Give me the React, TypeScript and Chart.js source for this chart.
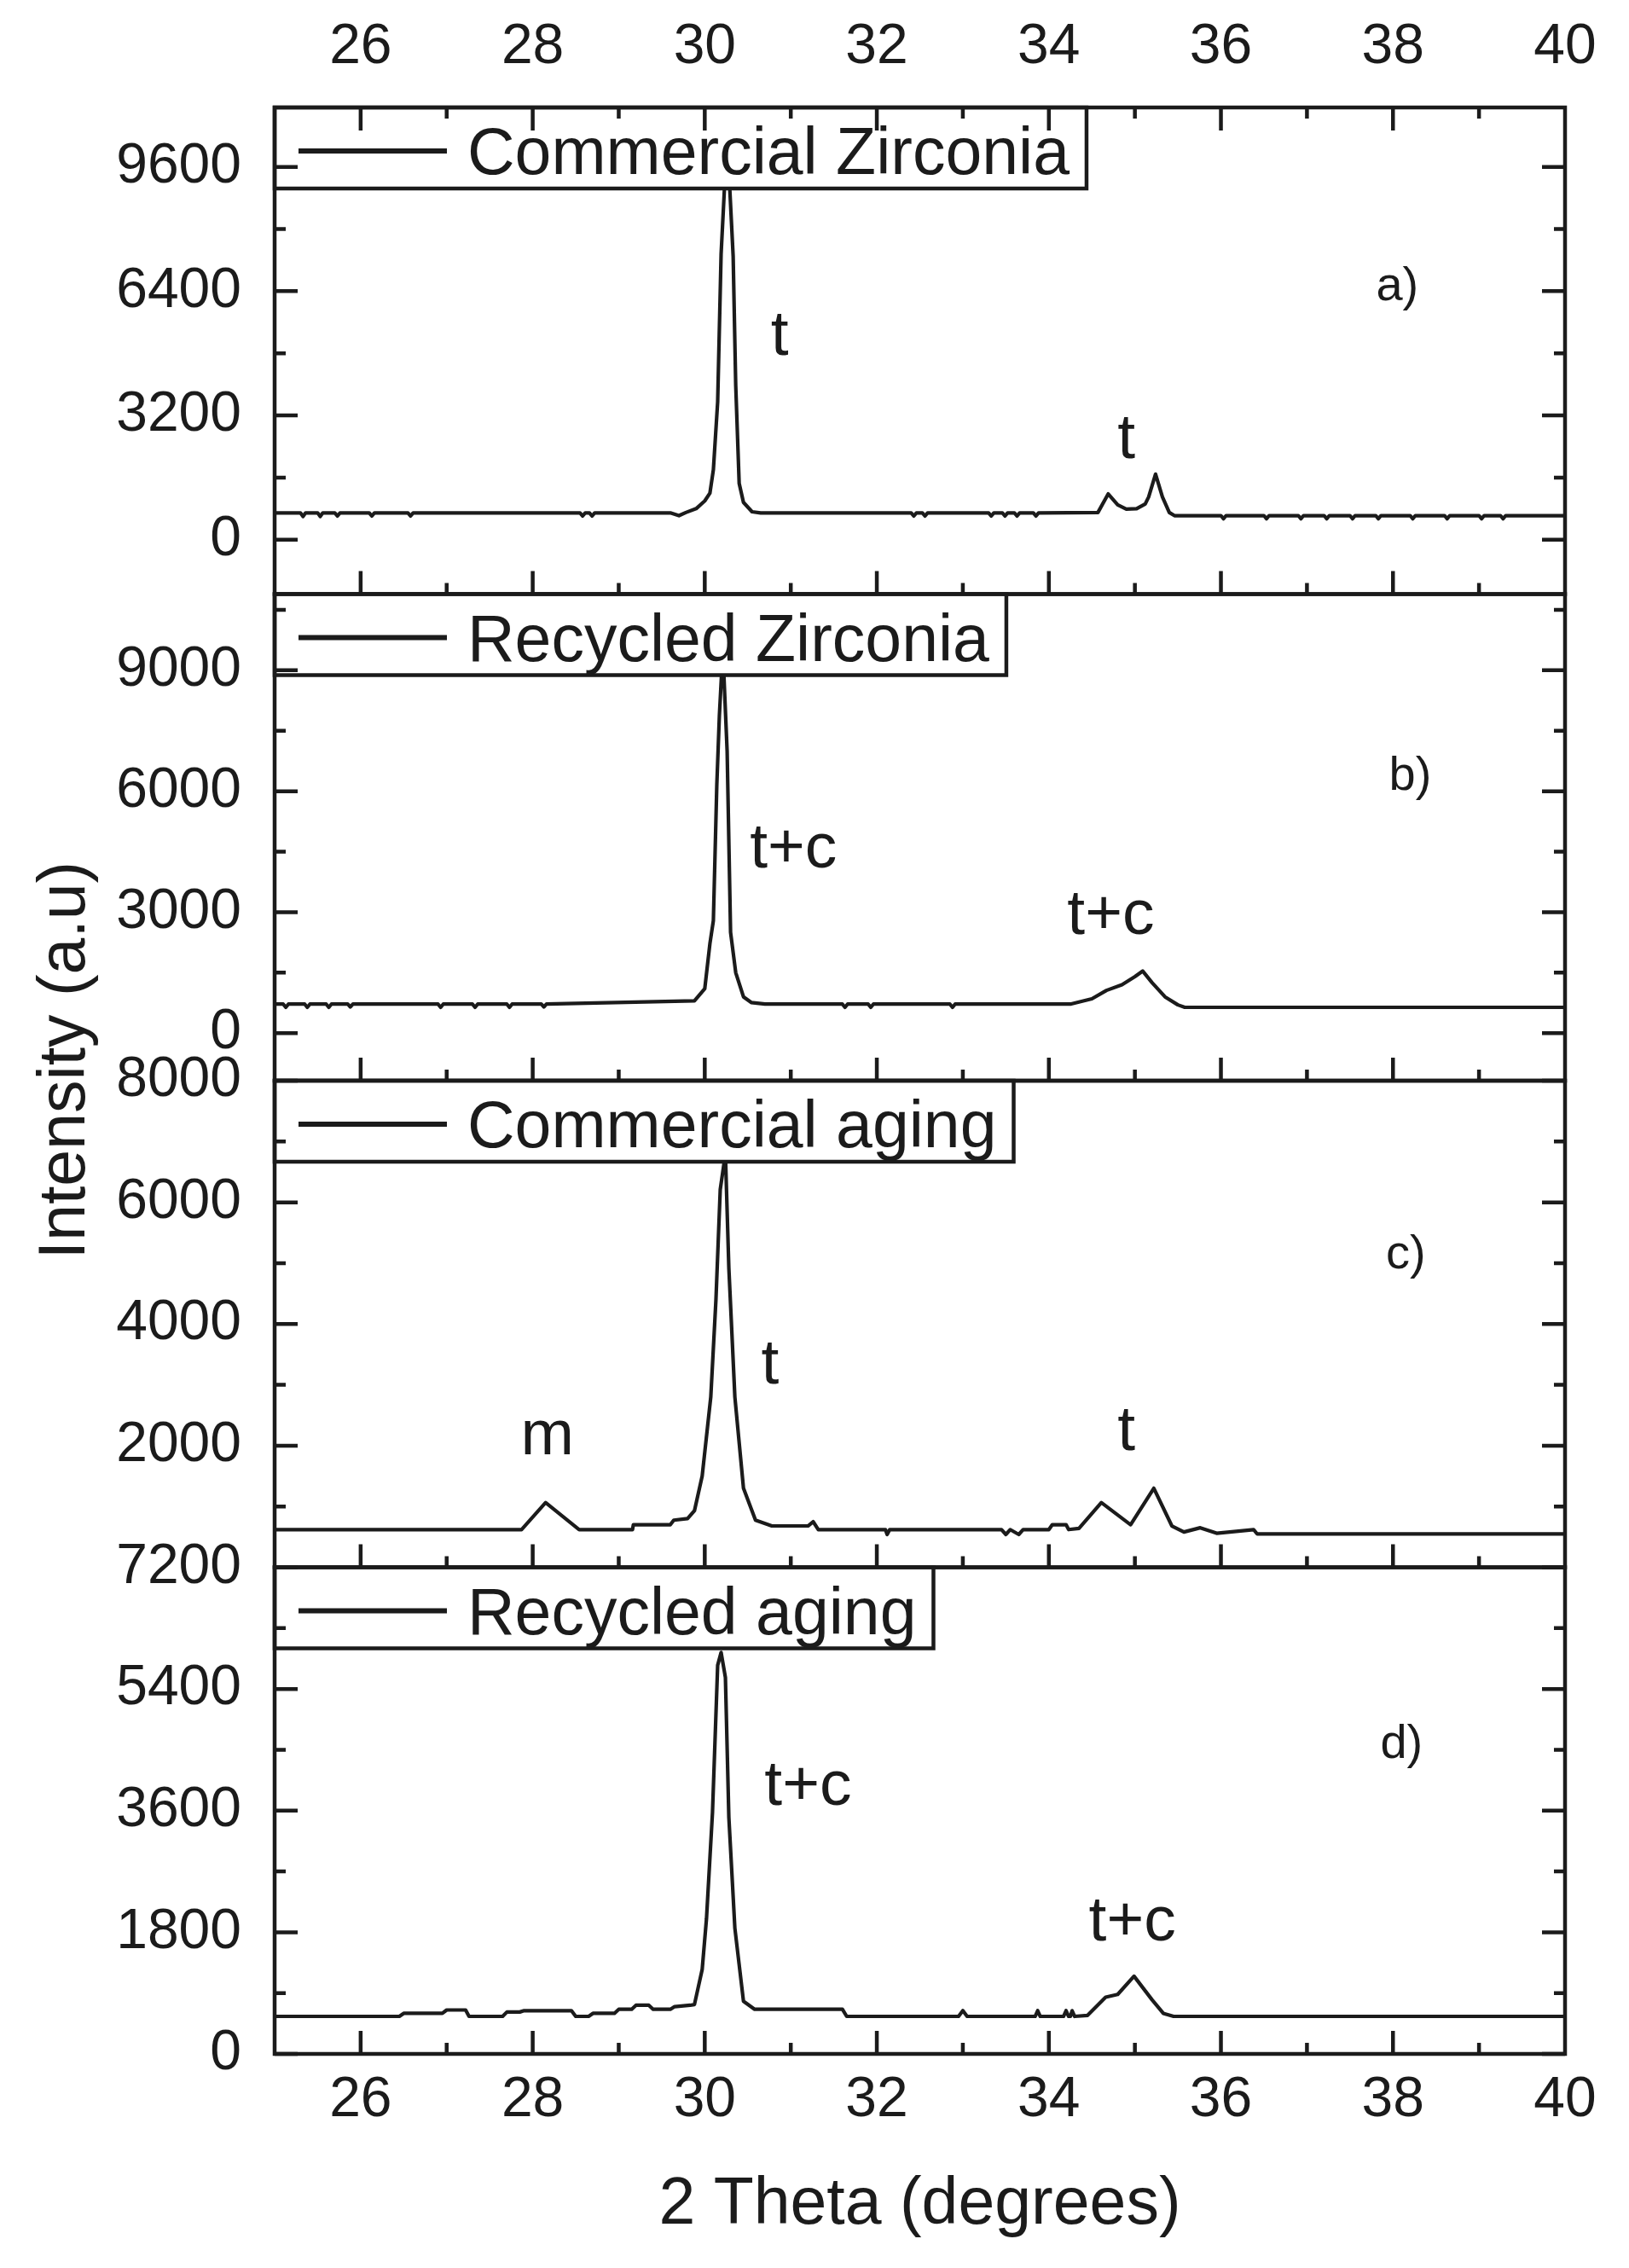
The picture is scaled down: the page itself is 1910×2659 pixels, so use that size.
import { useEffect, useRef } from 'react';
import { Chart, registerables } from 'chart.js';

Chart.register(...registerables);

const FONT = '"Liberation Sans", Arial, sans-serif';
const INK = '#1b1b1b';

const X_MIN = 25;
const X_MAX = 40;
const X_TICKS = [26, 28, 30, 32, 34, 36, 38, 40];

const SERIES_LABELS = ['Commercial Zirconia', 'Recycled Zirconia', 'Commercial aging', 'Recycled aging'];

// [2 theta, intensity]
const commercialZirconia: [number, number][] = [
  [25.0, 690], [25.3, 690], [25.33, 600], [25.36, 690], [25.5, 690], [25.53, 600], [25.56, 690],
  [25.7, 690], [25.73, 610], [25.76, 690], [26.1, 690], [26.13, 610], [26.16, 690], [26.55, 690],
  [26.58, 610], [26.61, 690], [28.55, 690], [28.58, 610], [28.61, 690], [28.66, 690], [28.69, 610],
  [28.72, 690], [29.6, 690], [29.7, 620], [29.78, 700], [29.9, 800], [30.0, 1000], [30.06, 1200],
  [30.1, 1800], [30.15, 3550], [30.19, 7360], [30.26, 10400], [30.33, 7300], [30.36, 3970],
  [30.4, 1450], [30.45, 960], [30.55, 720], [30.65, 690], [32.4, 690], [32.43, 610], [32.46, 690],
  [32.53, 690], [32.56, 610], [32.59, 690], [33.3, 690], [33.33, 610], [33.36, 690], [33.46, 690],
  [33.49, 610], [33.52, 690], [33.6, 690], [33.63, 610], [33.66, 690], [33.82, 690], [33.85, 610],
  [33.88, 690], [34.57, 700], [34.69, 1180], [34.8, 900], [34.9, 790], [35.02, 800], [35.12, 920],
  [35.16, 1100], [35.24, 1690], [35.32, 1100], [35.4, 700], [35.46, 620], [36.0, 620], [36.03, 540],
  [36.06, 620], [36.5, 620], [36.53, 540], [36.56, 620], [36.9, 620], [36.93, 540], [36.96, 620],
  [37.2, 620], [37.23, 540], [37.26, 620], [37.5, 620], [37.53, 540], [37.56, 620], [37.8, 620],
  [37.83, 540], [37.86, 620], [38.2, 620], [38.23, 540], [38.26, 620], [38.6, 620], [38.63, 540],
  [38.66, 620], [39.0, 620], [39.03, 540], [39.06, 620], [39.25, 620], [39.28, 540], [39.31, 620],
  [40.0, 620],
];

const recycledZirconia: [number, number][] = [
  [25.0, 720], [25.1, 720], [25.13, 640], [25.16, 720], [25.35, 720], [25.38, 640], [25.41, 720],
  [25.6, 720], [25.63, 640], [25.66, 720], [25.85, 720], [25.88, 650], [25.91, 720], [26.9, 720],
  [26.93, 640], [26.96, 720], [27.3, 720], [27.33, 640], [27.36, 720], [27.7, 720], [27.73, 640],
  [27.76, 720], [28.1, 720], [28.13, 650], [28.16, 720], [29.88, 800], [30.0, 1100], [30.06, 2220],
  [30.1, 2790], [30.14, 6150], [30.17, 7880], [30.21, 9500], [30.26, 7000], [30.3, 2500],
  [30.36, 1500], [30.45, 900], [30.54, 760], [30.7, 720], [31.6, 720], [31.63, 640], [31.66, 720],
  [31.9, 720], [31.93, 640], [31.96, 720], [32.85, 720], [32.88, 640], [32.91, 720], [34.25, 720],
  [34.5, 850], [34.67, 1060], [34.85, 1200], [35.0, 1400], [35.09, 1540], [35.2, 1250], [35.35, 900],
  [35.5, 700], [35.58, 640], [40.0, 640],
];

const commercialAging: [number, number][] = [
  [25.0, 620], [27.87, 620], [28.15, 1063], [28.54, 620], [29.16, 620], [29.17, 700], [29.6, 700],
  [29.64, 775], [29.8, 800], [29.88, 930], [29.97, 1500], [30.07, 2800], [30.13, 4400], [30.18, 6210],
  [30.24, 6800], [30.28, 4920], [30.35, 2800], [30.45, 1300], [30.59, 775], [30.78, 680], [31.2, 680],
  [31.26, 750], [31.32, 620], [32.1, 620], [32.12, 540], [32.15, 620], [33.45, 620], [33.5, 540],
  [33.55, 620], [33.65, 540], [33.7, 620], [34.0, 620], [34.04, 700], [34.2, 700], [34.23, 620],
  [34.35, 640], [34.61, 1063], [34.95, 700], [35.22, 1300], [35.43, 680], [35.57, 580], [35.76, 650],
  [35.95, 560], [36.38, 620], [36.42, 550], [40.0, 550],
];

const recycledAging: [number, number][] = [
  [25.0, 555], [26.45, 555], [26.5, 600], [26.95, 600], [27.0, 650], [27.22, 650], [27.26, 555],
  [27.65, 555], [27.7, 620], [27.85, 620], [27.9, 640], [28.45, 640], [28.5, 555], [28.65, 555],
  [28.7, 600], [28.95, 600], [29.0, 660], [29.15, 660], [29.2, 720], [29.35, 720], [29.4, 660],
  [29.6, 660], [29.65, 700], [29.83, 720], [29.88, 730], [29.97, 1250], [30.02, 2000], [30.09, 3575],
  [30.15, 5750], [30.19, 5940], [30.24, 5570], [30.28, 3500], [30.35, 1860], [30.45, 780],
  [30.58, 660], [31.6, 660], [31.65, 555], [32.95, 555], [33.0, 640], [33.05, 555], [33.84, 555],
  [33.87, 640], [33.9, 555], [34.17, 555], [34.2, 640], [34.23, 555], [34.25, 555], [34.27, 640],
  [34.3, 555], [34.45, 570], [34.66, 840], [34.8, 880], [34.99, 1150], [35.2, 800], [35.33, 600],
  [35.45, 555], [40.0, 555],
];

const SERIES = [commercialZirconia, recycledZirconia, commercialAging, recycledAging];

const PANEL_IDS = ['yA', 'yB', 'yC', 'yD'];
const Y_MIN = [-1400, -1180, 0, 0];
const Y_MAX = [11130, 10890, 8000, 7200];
const Y_TICKS = [
  [0, 3200, 6400, 9600],
  [0, 3000, 6000, 9000],
  [2000, 4000, 6000, 8000],
  [0, 1800, 3600, 5400, 7200],
];
const Y_MINOR = [1600, 1500, 1000, 900];

const PANEL_TAGS = ['a)', 'b)', 'c)', 'd)'];
const TAG_POS: [number, number][] = [[38.05, 6550], [38.2, 6400], [38.15, 5150], [38.1, 4600]];
const PEAK_NOTES: [string, number, number][][] = [
  [['t', 30.87, 5350], ['t', 34.9, 2700]],
  [['t+c', 31.03, 4690], ['t+c', 34.72, 3040]],
  [['m', 28.17, 2240], ['t', 30.76, 3400], ['t', 34.9, 2300]],
  [['t+c', 31.2, 4030], ['t+c', 34.97, 2020]],
];

const panelDecor = {
  id: 'panelDecor',
  afterDatasetsDraw(chart: any) {
    const { ctx, chartArea } = chart;
    const xs = chart.scales.x;
    const left = chartArea.left;
    const right = chartArea.right;
    ctx.save();
    PANEL_IDS.forEach((id, i) => {
      const ys = chart.scales[id];
      const top = ys.top;
      const bottom = ys.bottom;

      // legend box (opaque, hides the top of the peak)
      ctx.font = `77px ${FONT}`;
      const label = SERIES_LABELS[i];
      const textX = left + 226;
      const boxW = textX + ctx.measureText(label).width + 20 - left;
      ctx.fillStyle = '#fff';
      ctx.fillRect(left, top, boxW, 95);

      // frame + inward ticks
      ctx.strokeStyle = INK;
      ctx.lineWidth = 4.5;
      ctx.beginPath();
      for (let v = X_MIN + 1; v < X_MAX; v++) {
        const px = xs.getPixelForValue(v);
        const len = v % 2 === 0 ? 27 : 13;
        ctx.moveTo(px, bottom);
        ctx.lineTo(px, bottom - len);
        if (i === 0) {
          ctx.moveTo(px, top);
          ctx.lineTo(px, top + len);
        }
      }
      const step = Y_MINOR[i];
      for (let v = Math.ceil(Y_MIN[i] / step) * step; v <= Y_MAX[i]; v += step) {
        const py = ys.getPixelForValue(v);
        const len = v % (2 * step) === 0 ? 27 : 13;
        ctx.moveTo(left, py);
        ctx.lineTo(left + len, py);
        ctx.moveTo(right, py);
        ctx.lineTo(right - len, py);
      }
      ctx.stroke();
      ctx.strokeRect(left, top, right - left, bottom - top);
      ctx.strokeRect(left, top, boxW, 95);

      ctx.lineWidth = 6;
      ctx.beginPath();
      ctx.moveTo(left + 28, top + 51);
      ctx.lineTo(left + 202, top + 51);
      ctx.stroke();
      ctx.fillStyle = INK;
      ctx.textAlign = 'left';
      ctx.textBaseline = 'alphabetic';
      ctx.fillText(label, textX, top + 78);

      // peak phase notes
      ctx.textAlign = 'center';
      ctx.font = `75px ${FONT}`;
      PEAK_NOTES[i].forEach(([t, x, y]) => {
        ctx.fillText(t, xs.getPixelForValue(x), ys.getPixelForValue(y) + 27);
      });
      ctx.font = `56px ${FONT}`;
      const [tx, ty] = TAG_POS[i];
      ctx.fillText(PANEL_TAGS[i], xs.getPixelForValue(tx), ys.getPixelForValue(ty) + 17);
    });

    // axis titles
    ctx.font = `77px ${FONT}`;
    ctx.textAlign = 'center';
    ctx.fillText('2 Theta (degrees)', (left + right) / 2, chartArea.bottom + 199);
    ctx.translate(76, (chartArea.top + chartArea.bottom) / 2 - 24);
    ctx.rotate(-Math.PI / 2);
    ctx.fillText('Intensity (a.u)', 0, 23);
    ctx.restore();
  },
};

const tickFont = { size: 66, family: FONT };

function xAxis(position: 'top' | 'bottom', height: number, padding: number) {
  return {
    type: 'linear' as const,
    position,
    min: X_MIN,
    max: X_MAX,
    grid: { display: false, drawTicks: false },
    border: { display: false },
    afterBuildTicks: (s: any) => {
      s.ticks = X_TICKS.map((value) => ({ value }));
    },
    afterFit: (s: any) => {
      s.height = height;
    },
    ticks: {
      font: tickFont,
      color: INK,
      padding,
      maxRotation: 0,
      autoSkip: false,
      callback: (v: any) => String(v),
    },
  };
}

function yAxis(i: number) {
  return {
    type: 'linear' as const,
    position: 'left' as const,
    stack: 'panels',
    stackWeight: 1,
    weight: 4 - i,
    min: Y_MIN[i],
    max: Y_MAX[i],
    grid: { display: false, drawTicks: false },
    border: { display: false },
    afterBuildTicks: (s: any) => {
      s.ticks = Y_TICKS[i].map((value) => ({ value }));
    },
    afterFit: (s: any) => {
      s.width = 322;
    },
    ticks: {
      font: tickFont,
      color: INK,
      padding: 39,
      autoSkip: false,
      callback: (v: any) => String(v),
    },
  };
}

export default function App() {
  const canvasRef = useRef<HTMLCanvasElement>(null);

  useEffect(() => {
    const canvas = canvasRef.current;
    if (!canvas) return;

    const chart = new Chart(canvas, {
      type: 'line',
      data: {
        datasets: SERIES.map((pts, i) => ({
          label: SERIES_LABELS[i],
          data: pts.map(([x, y]) => ({ x, y })),
          xAxisID: 'x',
          yAxisID: PANEL_IDS[i],
          borderColor: INK,
          borderWidth: 4.2,
          borderJoinStyle: 'round',
          pointRadius: 0,
          fill: false,
          tension: 0,
        })),
      },
      options: {
        responsive: false,
        animation: false,
        devicePixelRatio: 1,
        layout: { padding: { left: 0, right: 75, top: 0, bottom: 0 } },
        plugins: { legend: { display: false }, tooltip: { enabled: false } },
        scales: {
          x: xAxis('bottom', 251, 15),
          xTop: xAxis('top', 126, 31),
          yA: yAxis(0),
          yB: yAxis(1),
          yC: yAxis(2),
          yD: yAxis(3),
        },
      } as any,
      plugins: [panelDecor],
    });

    return () => chart.destroy();
  }, []);

  return (
    <div style={{ position: 'absolute', left: 0, top: 0, width: 1910, height: 2659, background: '#fff' }}>
      <canvas ref={canvasRef} width={1910} height={2659} style={{ display: 'block', width: 1910, height: 2659 }} />
    </div>
  );
}
